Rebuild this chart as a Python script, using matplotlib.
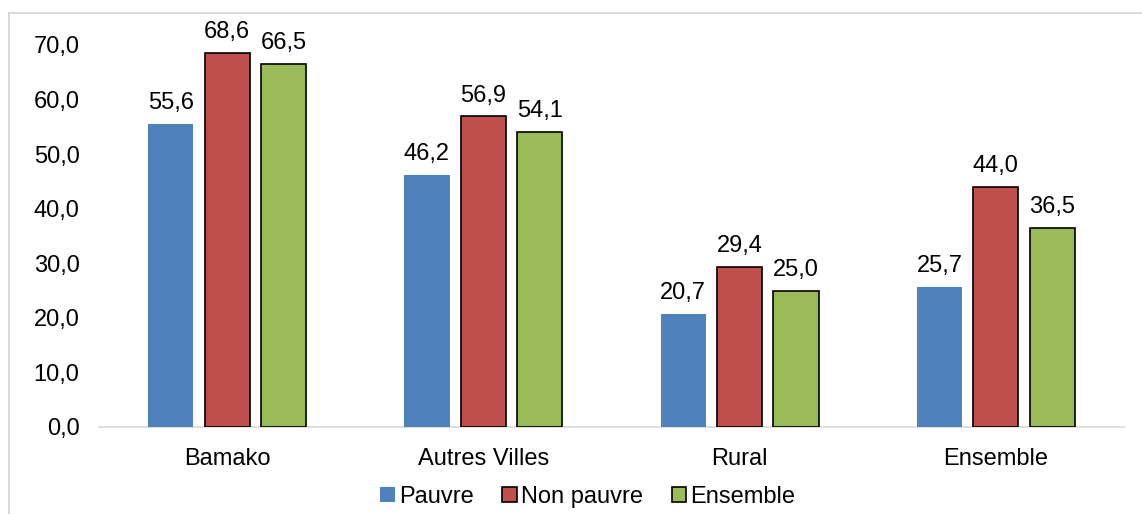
import numpy as np
import matplotlib.pyplot as plt
from matplotlib.patches import Rectangle

plt.rcParams['font.family'] = ['Liberation Sans', 'DejaVu Sans']

categories = ['Bamako', 'Autres Villes', 'Rural', 'Ensemble']
series = ['Pauvre', 'Non pauvre', 'Ensemble']
pauvre = [55.6, 46.2, 20.7, 25.7]
non_pauvre = [68.6, 56.9, 29.4, 44.0]
ensemble = [66.5, 54.1, 25.0, 36.5]

colors = ['#4F81BD', '#C0504D', '#9BBB59']
edges = ['none', 'black', 'black']
fs = 17

fig = plt.figure(figsize=(11.42, 5.14), dpi=100)
# light frame around chart area
fig.patches.append(Rectangle((9 / 1142, -0.05), 1.1, 1 - 13 / 514 + 0.05,
                             transform=fig.transFigure, fill=False,
                             edgecolor='#D9D9D9', linewidth=1.5))

ax = fig.add_axes([99 / 1142, 1 - 427 / 514, 1025 / 1142, (427 - 45) / 514])

x = np.arange(len(categories))
w = 0.176
step = 0.22
for i, (vals, name) in enumerate(zip([pauvre, non_pauvre, ensemble], series)):
    pos = x + (i - 1) * step
    bars = ax.bar(pos, vals, w, color=colors[i], edgecolor=edges[i],
                  linewidth=1.2, label=name, zorder=3)
    for b, v in zip(bars, vals):
        ax.annotate(f'{v:.1f}'.replace('.', ','), (b.get_x() + b.get_width() / 2, v),
                    xytext=(0, 7), textcoords='offset points',
                    ha='center', va='bottom', fontsize=fs)

ax.set_xlim(-0.5, 3.5)
ax.set_ylim(0, 70)
ax.set_yticks(np.arange(0, 71, 10))
ax.set_yticklabels([f'{t:.1f}'.replace('.', ',') for t in np.arange(0, 71, 10)], fontsize=fs)
ax.set_xticks(x)
ax.set_xticklabels(categories, fontsize=fs)
ax.tick_params(axis='x', length=0, pad=15)
ax.tick_params(axis='y', length=0, pad=14)
for s in ['top', 'right', 'left']:
    ax.spines[s].set_visible(False)
ax.spines['bottom'].set_color('#D9D9D9')
ax.spines['bottom'].set_linewidth(1.2)

ax.legend(loc='upper center', bbox_to_anchor=(0.477, -0.11), ncol=3, frameon=False,
          fontsize=fs, handlelength=0.6, handleheight=0.6, handletextpad=0.2,
          columnspacing=1.2, borderpad=0.2)

fig.savefig('out.png', dpi=100)
